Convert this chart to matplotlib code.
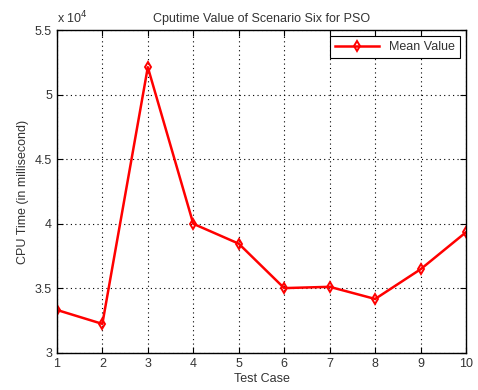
import matplotlib
matplotlib.use("Agg")
from matplotlib import pyplot as plt
from matplotlib.ticker import FuncFormatter

plt.rcParams["font.family"] = ["Liberation Sans", "DejaVu Sans"]

# Datos
casos = [1, 2, 3, 4, 5, 6, 7, 8, 9, 10]
valor_medio = [33330, 32250, 52120, 40000, 38460, 35020, 35120, 34180, 36480, 39350]

fig = plt.figure(figsize=(4.78, 3.9), dpi=100)
ax = fig.add_axes([0.119, 0.095, 0.856, 0.828])

ax.plot(casos, valor_medio, color="red", linewidth=1.8, marker="d",
        markersize=5.5, markerfacecolor="none", markeredgecolor="red",
        markeredgewidth=1.4, label="Mean Value")

ax.set_xlim(1, 10)
ax.set_ylim(30000, 55000)
ax.set_xticks(casos)
ax.set_yticks([30000, 35000, 40000, 45000, 50000, 55000])
ax.yaxis.set_major_formatter(FuncFormatter(lambda v, p: f"{v / 1e4:g}"))
ax.text(0.0, 1.012, "x 10$^{4}$", transform=ax.transAxes, fontsize=9,
        ha="left", va="bottom", color="#333333")

ax.grid(True, linestyle=(0, (1, 3)), color="black", linewidth=0.8)
ax.tick_params(direction="in", labelsize=9, length=4, top=True, right=True,
               labelcolor="#333333")
for s in ax.spines.values():
    s.set_linewidth(1)

ax.set_xlabel("Test Case", fontsize=9, labelpad=2, color="#333333")
ax.set_ylabel("CPU Time (in millisecond)", fontsize=9, color="#333333")
ax.set_title("Cputime Value of Scenario Six for PSO", fontsize=9, pad=6,
             color="#333333")

leg = ax.legend(loc="upper right", fontsize=9, fancybox=False,
                edgecolor="black", framealpha=1, handlelength=3.5)
leg.get_frame().set_linewidth(0.8)
for t in leg.get_texts():
    t.set_color("#333333")

fig.savefig("out.png", dpi=100)
plt.close(fig)
